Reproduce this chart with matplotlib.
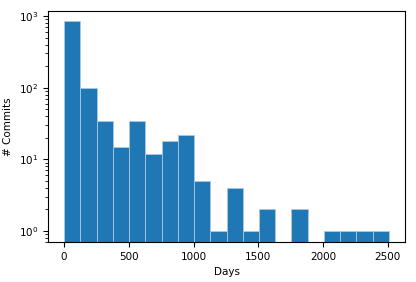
import numpy as np
import matplotlib
matplotlib.use("Agg")
import matplotlib.pyplot as plt

# histogram of commit ages (days)
bin_edges = np.linspace(0, 2510, 21)
counts = [850, 100, 34, 15, 34, 12, 18, 22, 5, 1, 4, 1, 2, 0, 2, 0, 1, 1, 1, 1]

plt.rcParams['font.size'] = 7.5

fig = plt.figure(figsize=(4.16, 2.82), dpi=100)
ax = fig.add_axes([0.115, 0.142, 0.859, 0.819])

centers = (bin_edges[:-1] + bin_edges[1:]) / 2
ax.hist(centers, bins=bin_edges, weights=counts, color='#1f77b4',
        edgecolor='#a9c9e2', linewidth=0.6, log=True)
ax.set_ylim(0.7, 1175)
ax.set_xlabel("Days")
ax.set_ylabel("# Commits")

fig.savefig("out.png", dpi=100)
